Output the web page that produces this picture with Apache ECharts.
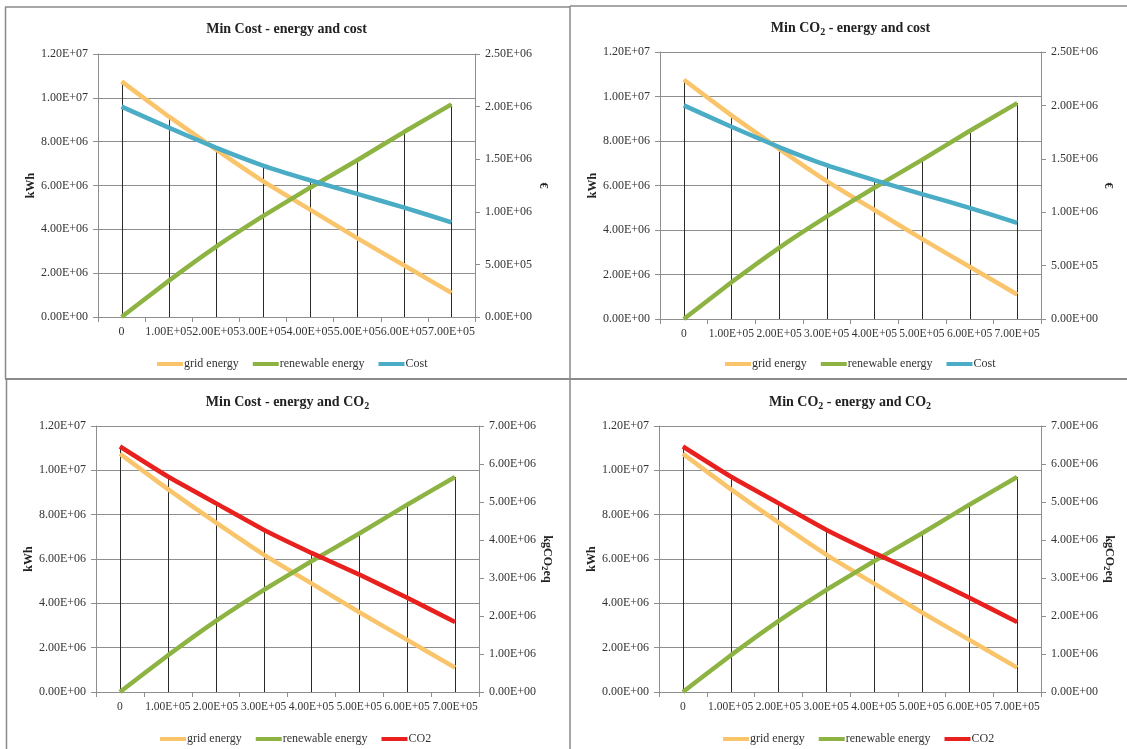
<!DOCTYPE html>
<html>
<head>
<meta charset="utf-8">
<script src="https://cdn.jsdelivr.net/npm/echarts@6/dist/echarts.min.js"></script>
<style>
html,body{margin:0;padding:0;background:#fff;}
#c{width:1127px;height:749px;}
</style>
</head>
<body>
<div id="c"></div>
<script>
// ---- data ----
const categories = ['0','1.00E+05','2.00E+05','3.00E+05','4.00E+05','5.00E+05','6.00E+05','7.00E+05'];
const gridEnergy = [10750000, 9150000, 7650000, 6200000, 4900000, 3600000, 2350000, 1100000];
const renewableEnergy = [0, 1650000, 3200000, 4600000, 5900000, 7150000, 8450000, 9700000];
const costEuro = [2000000, 1800000, 1610000, 1440000, 1300000, 1170000, 1040000, 900000];
const co2 = [6460000, 5670000, 4970000, 4270000, 3660000, 3090000, 2480000, 1840000];
const kwhAxis = {min: 0, max: 12000000, interval: 2000000};
const euroAxis = {min: 0, max: 2500000, interval: 500000};
const co2Axis = {min: 0, max: 7000000, interval: 1000000};

const FONT = "'Liberation Serif', 'Times New Roman', serif";
const GRIDC = '#8e8e8e';
const colors = {grid: '#f9c46a', renew: '#8db443', cost: '#4aacc5', co2: '#e8201e'};

function sci(v) {
  if (v === 0) return '0.00E+00';
  let e = Math.floor(Math.log10(Math.abs(v)) + 1e-9);
  let m = v / Math.pow(10, e);
  return m.toFixed(2) + 'E' + (e < 0 ? '-' : '+') + String(Math.abs(e)).padStart(2, '0');
}

const panels = [
  {grid: {left: 98, top: 54, width: 377, height: 263}, xFont: 12, title: '{b|Min Cost - energy and cost}', titleY: 29, rightName: '{n|€}', rightAxis: euroAxis, third: costEuro, thirdName: 'Cost', thirdColor: colors.cost, legendLeft: 152, legendTop: 353, nameGapR: 62},
  {grid: {left: 660, top: 52, width: 381, height: 267}, xFont: 11.5, title: '{b|Min CO}{s|2}{b| - energy and cost}', titleY: 28, rightName: '{n|€}', rightAxis: euroAxis, third: costEuro, thirdName: 'Cost', thirdColor: colors.cost, legendLeft: 720, legendTop: 353, nameGapR: 61},
  {grid: {left: 96, top: 426, width: 383, height: 266}, xFont: 11.5, title: '{b|Min Cost - energy and CO}{s|2}', titleY: 402, rightName: '{n|kgCO}{ns|2}{n|eq}', rightAxis: co2Axis, third: co2, thirdName: 'CO2', thirdColor: colors.co2, legendLeft: 155, legendTop: 728, nameGapR: 59},
  {grid: {left: 659, top: 426, width: 382, height: 266}, xFont: 11.5, title: '{b|Min CO}{s|2}{b| - energy and CO}{s|2}', titleY: 402, rightName: '{n|kgCO}{ns|2}{n|eq}', rightAxis: co2Axis, third: co2, thirdName: 'CO2', thirdColor: colors.co2, legendLeft: 718, legendTop: 728, nameGapR: 59}
];

const option = {
  backgroundColor: '#fff',
  animation: false,
  grid: [], xAxis: [], yAxis: [], series: [], legend: [], graphic: []
};

const axisLabelStyle = {fontFamily: FONT, fontSize: 12, color: '#333'};
const nameRich = {
  n: {fontFamily: FONT, fontSize: 12, fontWeight: 'bold', color: '#222'},
  ns: {fontFamily: FONT, fontSize: 9, fontWeight: 'bold', color: '#222', padding: [6, 0, 0, 0]}
};

function dropItem(params, api) {
  const p0 = api.coord([api.value(0), 0]);
  const p1 = api.coord([api.value(0), api.value(1)]);
  const x = Math.round(p0[0]) + 0.5;
  return {type: 'line', shape: {x1: x, y1: p0[1], x2: x, y2: p1[1]}, style: {stroke: '#2a2a2a', lineWidth: 1}};
}

panels.forEach((p, i) => {
  option.grid.push(p.grid);
  option.xAxis.push({
    type: 'category', gridIndex: i, data: categories, boundaryGap: true,
    axisLine: {show: true, lineStyle: {color: GRIDC, width: 1}},
    axisTick: {show: true, length: 5, alignWithLabel: false, lineStyle: {color: GRIDC}},
    axisLabel: Object.assign({interval: 0, margin: 9}, axisLabelStyle, {fontSize: p.xFont}),
    splitLine: {show: false}
  });
  option.yAxis.push({
    type: 'value', gridIndex: i, position: 'left',
    min: kwhAxis.min, max: kwhAxis.max, interval: kwhAxis.interval,
    name: '{n|kWh}', nameLocation: 'middle', nameGap: 60, nameRotate: 90,
    nameTextStyle: {rich: nameRich},
    axisLine: {show: true, lineStyle: {color: GRIDC, width: 1}},
    axisTick: {show: true, length: 5, lineStyle: {color: GRIDC}},
    axisLabel: Object.assign({margin: 10, formatter: sci}, axisLabelStyle),
    splitLine: {show: true, lineStyle: {color: GRIDC, width: 1.2}}
  });
  option.yAxis.push({
    type: 'value', gridIndex: i, position: 'right',
    min: p.rightAxis.min, max: p.rightAxis.max, interval: p.rightAxis.interval,
    name: p.rightName, nameLocation: 'middle', nameGap: p.nameGapR, nameRotate: -90,
    nameTextStyle: {rich: nameRich},
    axisLine: {show: true, lineStyle: {color: GRIDC, width: 1}},
    axisTick: {show: true, length: 5, lineStyle: {color: GRIDC}},
    axisLabel: Object.assign({margin: 10, formatter: sci}, axisLabelStyle),
    splitLine: {show: false}
  });
  const yl = i * 2, yr = i * 2 + 1;
  // drop lines (from axis up to the highest series point)
  const maxLeft = gridEnergy.map((g, k) => [k, Math.max(g, renewableEnergy[k])]);
  option.series.push({type: 'custom', xAxisIndex: i, yAxisIndex: yl, renderItem: dropItem, data: maxLeft, z: 1, silent: true, encode: {x: 0, y: 1}});
  option.series.push({type: 'custom', xAxisIndex: i, yAxisIndex: yr, renderItem: dropItem, data: p.third.map((v, k) => [k, v]), z: 1, silent: true, encode: {x: 0, y: 1}});
  const lineCommon = {type: 'line', xAxisIndex: i, showSymbol: false, symbol: 'none', smooth: 0.15, z: 3};
  option.series.push(Object.assign({}, lineCommon, {name: 'grid energy', yAxisIndex: yl, data: gridEnergy, lineStyle: {color: colors.grid, width: 4.5}, itemStyle: {color: colors.grid}}));
  option.series.push(Object.assign({}, lineCommon, {name: 'renewable energy', yAxisIndex: yl, data: renewableEnergy, lineStyle: {color: colors.renew, width: 4.5}, itemStyle: {color: colors.renew}}));
  option.series.push(Object.assign({}, lineCommon, {name: p.thirdName, yAxisIndex: yr, data: p.third, lineStyle: {color: p.thirdColor, width: 4.5}, itemStyle: {color: p.thirdColor}}));
  option.legend.push({
    left: p.legendLeft, top: p.legendTop, icon: 'rect', itemWidth: 26, itemHeight: 4, itemGap: 14,
    textStyle: {fontFamily: FONT, fontSize: 12, color: '#333', padding: [0, 0, 0, -4]},
    data: ['grid energy', 'renewable energy', p.thirdName], selectedMode: false
  });
  option.graphic.push({
    type: 'text', x: p.grid.left + p.grid.width / 2, y: p.titleY, z: 10,
    style: {
      text: p.title, align: 'center', verticalAlign: 'middle',
      rich: {
        b: {fontFamily: FONT, fontSize: 14, fontWeight: 'bold', fill: '#222'},
        s: {fontFamily: FONT, fontSize: 10, fontWeight: 'bold', fill: '#222', padding: [8, 0, 0, 0]}
      }
    }
  });
});

// panel borders
const borderStyle = {stroke: '#8a8a8a', lineWidth: 1.5, fill: null};
option.graphic.push(
  {type: 'line', shape: {x1: 5, y1: 7, x2: 570, y2: 7}, style: borderStyle},
  {type: 'line', shape: {x1: 570, y1: 6, x2: 1127, y2: 6}, style: borderStyle},
  {type: 'line', shape: {x1: 5.5, y1: 7, x2: 5.5, y2: 379}, style: borderStyle},
  {type: 'line', shape: {x1: 6.5, y1: 379, x2: 6.5, y2: 749}, style: borderStyle},
  {type: 'line', shape: {x1: 570, y1: 6, x2: 570, y2: 749}, style: borderStyle},
  {type: 'line', shape: {x1: 5, y1: 379, x2: 1127, y2: 379}, style: {stroke: '#8a8a8a', lineWidth: 2}}
);

const chart = echarts.init(document.getElementById('c'), null, {renderer: 'canvas'});
chart.setOption(option);
</script>
</body>
</html>
